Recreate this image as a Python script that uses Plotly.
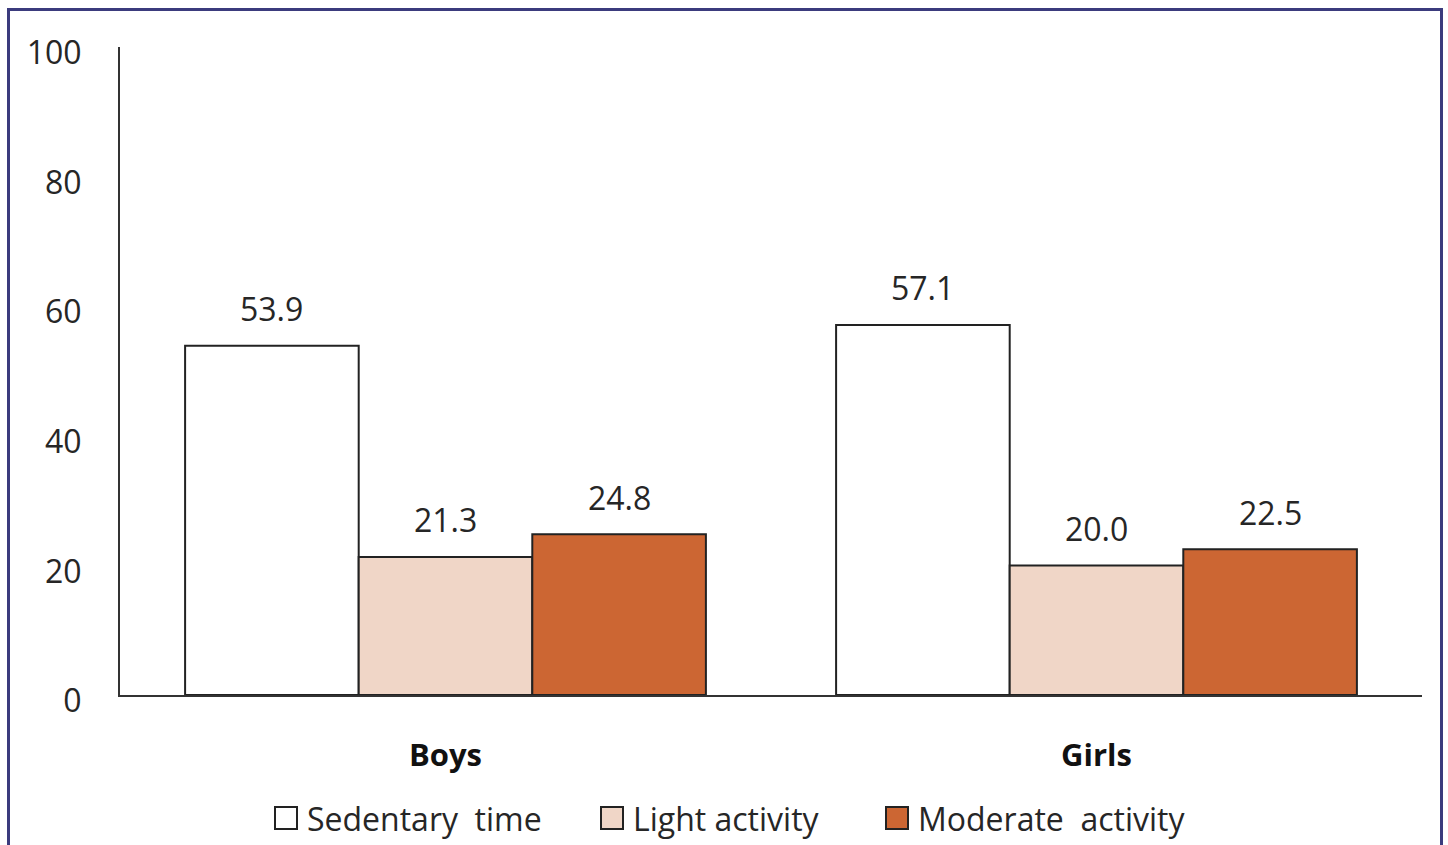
import plotly.graph_objects as go

# Share of time by activity intensity (%)
groups = ["Boys", "Girls"]
series_names = ["Sedentary time", "Light activity", "Moderate activity"]
sedentary = [53.9, 57.1]
light = [21.3, 20.0]
moderate = [24.8, 22.5]
y_ticks = [0, 20, 40, 60, 80, 100]

series_values = [sedentary, light, moderate]
fills = ["#ffffff", "#f0d6c7", "#cc6633"]

W, H = 1448, 845
ML, MR, MT, MB = 120, 26, 47, 150
plot_w = W - ML - MR
plot_h = H - MT - MB
BARGAP = 0.2
bar_px = plot_w / len(groups) * (1 - BARGAP) / len(series_names)

FONT = "Open Sans"
TXT = "#262626"
EDGE = "#222222"


def px_x(p):
    return (p - ML) / plot_w


def px_y(p):
    return (H - MB - p) / plot_h


fig = go.Figure()
for name, vals, col in zip(series_names, series_values, fills):
    fig.add_trace(go.Bar(
        x=groups, y=vals, name=name,
        marker=dict(color=col, line=dict(color=EDGE, width=2)),
    ))

# value labels above each bar
for i, vals in enumerate(series_values):
    for g, v in zip(groups, vals):
        fig.add_annotation(
            x=g, y=v, xref="x", yref="y",
            text=f"{v:.1f}", showarrow=False,
            xshift=(i - 1) * bar_px, yshift=37,
            yanchor="middle",
            font=dict(family=FONT, size=32, color=TXT),
        )

# legend row drawn below the axis: swatch + label for each series
legend_left = [275, 601, 886]
legend_mid = 818
swatch = 22
for name, col, left in zip(series_names, fills, legend_left):
    fig.add_shape(
        type="rect", xref="paper", yref="paper",
        x0=px_x(left), x1=px_x(left + swatch),
        y0=px_y(legend_mid + swatch / 2), y1=px_y(legend_mid - swatch / 2),
        line=dict(color=EDGE, width=2), fillcolor=col,
    )
    fig.add_annotation(
        x=px_x(left + swatch + 8), y=px_y(legend_mid), xref="paper", yref="paper",
        text=name.replace(" ", "\u00a0 ") if name != "Light activity" else name,
        showarrow=False, xanchor="left", yanchor="middle",
        font=dict(family=FONT, size=32, color=TXT),
    )

# frame around the whole graphic
fig.add_shape(
    type="rect", xref="paper", yref="paper",
    x0=px_x(8.5), x1=px_x(1441.5), y0=px_y(880), y1=px_y(9.5),
    line=dict(color="#3b3b7d", width=3), fillcolor="rgba(0,0,0,0)",
)

fig.update_layout(
    width=W, height=H,
    margin=dict(l=ML, r=MR, t=MT, b=MB, autoexpand=False),
    paper_bgcolor="white", plot_bgcolor="white",
    barmode="group", bargap=BARGAP, bargroupgap=0,
    font=dict(family=FONT, size=32, color=TXT),
    showlegend=False,
)
fig.update_xaxes(
    showgrid=False, showline=True, linecolor="#333333", linewidth=2,
    ticks="", ticklabelstandoff=32,
    tickfont=dict(family=FONT, size=31, color="#111111", weight="bold"),
)
fig.update_yaxes(
    range=[0, 100], tickvals=y_ticks, showgrid=False, zeroline=False,
    showline=True, linecolor="#333333", linewidth=2,
    ticks="", ticklabelstandoff=30, ticklabelshift=6,
    tickfont=dict(family=FONT, size=32, color=TXT),
)

fig.write_html("out.html")
